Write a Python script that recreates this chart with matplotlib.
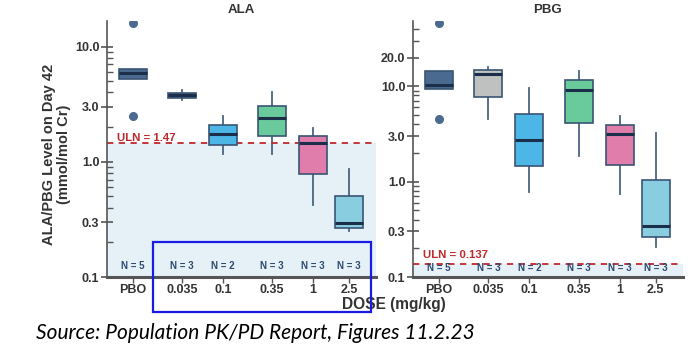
import matplotlib
matplotlib.use("Agg")
import matplotlib.pyplot as plt
import numpy as np
from matplotlib.patches import Rectangle
from matplotlib.ticker import FixedLocator, LogLocator, NullFormatter

plt.rcParams["font.family"] = ["Liberation Sans", "DejaVu Sans"]

# doses (PBO is drawn at 0.01 on the log dose axis)
dose_labels = ["PBO", "0.035", "0.1", "0.35", "1", "2.5"]
dose_pos = [0.01, 0.035, 0.1, 0.35, 1.0, 2.5]
n_labels = ["N = 5", "N = 3", "N = 2", "N = 3", "N = 3", "N = 3"]

# ALA box stats (mmol/mol Cr)
ala_med = [5.9, 3.77, 1.75, 2.39, 1.47, 0.293]
ala_q1 = [5.2, 3.57, 1.41, 1.66, 0.78, 0.269]
ala_q3 = [6.36, 3.98, 2.10, 3.08, 1.69, 0.51]
ala_lo = [5.2, 3.46, 1.18, 1.18, 0.42, 0.25]
ala_hi = [6.36, 4.17, 2.52, 4.0, 1.95, 0.86]
ala_fliers = [[2.52, 16.1], [], [], [], [], []]
ala_uln = 1.47

# PBG box stats (mmol/mol Cr)
pbg_med = [10.2, 13.4, 2.7, 9.2, 3.12, 0.339]
pbg_q1 = [9.3, 7.7, 1.45, 4.1, 1.51, 0.264]
pbg_q3 = [14.4, 14.8, 5.07, 11.5, 3.95, 1.04]
pbg_lo = [9.3, 4.5, 0.77, 1.86, 0.75, 0.207]
pbg_hi = [14.4, 16.0, 9.6, 14.3, 4.87, 3.22]
pbg_fliers = [[4.57, 46.4], [], [], [], [], []]
pbg_uln = 0.137

ala_colors = ["#4a6a8f", "#4a6a8f", "#4cb6e7", "#69cb9b", "#e07dab", "#88cee0"]
pbg_colors = ["#4a6a8f", "#bfc0c0", "#4cb6e7", "#69cb9b", "#e07dab", "#88cee0"]

TXT = "#333333"
NAVY = "#2d4a6e"
RED = "#c0282d"
SHADE = "#e5f1f7"


def draw_panel(ax, med, q1, q3, lo, hi, fliers, colors, uln, yticks, ytop, uln_text, uln_y):
    stats = []
    for i in range(len(med)):
        stats.append(dict(med=med[i], q1=q1[i], q3=q3[i], whislo=lo[i],
                          whishi=hi[i], fliers=fliers[i]))
    xs = np.log10(dose_pos)
    bp = ax.bxp(stats, positions=xs, widths=0.31, patch_artist=True, showcaps=False,
                boxprops=dict(edgecolor="#3a5474", linewidth=1.2),
                medianprops=dict(color="#1c2f4a", linewidth=2.2),
                whiskerprops=dict(color="#4a6580", linewidth=1.3),
                flierprops=dict(marker="o", markersize=5.5, markerfacecolor="#4a6a8f",
                                markeredgecolor="#4a6a8f"))
    for patch, c in zip(bp["boxes"], colors):
        patch.set_facecolor(c)
        patch.set_zorder(3)
    for m in bp["medians"]:
        m.set_zorder(4)

    ax.set_yscale("log")
    ax.set_ylim(0.1, ytop)
    ax.set_xlim(-2.29, 0.70)
    ax.axhspan(0.1, uln, color=SHADE, zorder=0, lw=0)
    ax.axhline(uln, color=RED, ls=(0, (3.5, 3)), lw=1.3, zorder=2)
    ax.text(-2.18, uln_y, uln_text, color=RED, fontsize=8.2, fontweight="bold",
            ha="left", va="center", zorder=5)
    for x, n in zip(xs, n_labels):
        ax.text(x, 0.124, n, color=NAVY, fontsize=7, fontweight="bold",
                ha="center", va="center", zorder=5)

    ax.yaxis.set_major_locator(FixedLocator(yticks))
    ax.set_yticklabels(["%.1f" % t for t in yticks])
    ax.yaxis.set_minor_locator(LogLocator(base=10, subs=np.arange(2, 10)))
    ax.yaxis.set_minor_formatter(NullFormatter())
    ax.set_xticks(xs)
    ax.set_xticklabels(dose_labels)
    for lab in ax.get_xticklabels() + ax.get_yticklabels():
        lab.set_fontweight("bold")
        lab.set_color(TXT)
    ax.tick_params(axis="y", which="major", direction="inout", length=9, width=1.2,
                   color="#555555", labelsize=9, pad=1)
    ax.tick_params(axis="y", which="minor", direction="in", length=4, width=1,
                   color="#555555")
    ax.tick_params(axis="x", direction="out", length=4, width=1, color="#555555",
                   labelsize=9, pad=1)
    for s in ["top", "right"]:
        ax.spines[s].set_visible(False)
    ax.spines["left"].set_color("#555555")
    ax.spines["left"].set_linewidth(1.2)
    ax.spines["bottom"].set_color("#555555")
    ax.spines["bottom"].set_linewidth(2.2)
    ax.set_facecolor("white")


fig = plt.figure(figsize=(6.96, 3.49), dpi=100)
ax1 = fig.add_axes([107 / 696, 1 - 277 / 349, 269 / 696, 256 / 349])
ax2 = fig.add_axes([413 / 696, 1 - 277 / 349, 270 / 696, 256 / 349])

draw_panel(ax1, ala_med, ala_q1, ala_q3, ala_lo, ala_hi, ala_fliers, ala_colors,
           ala_uln, [0.1, 0.3, 1.0, 3.0, 10.0], 16.7, "ULN = 1.47", 1.6)
draw_panel(ax2, pbg_med, pbg_q1, pbg_q3, pbg_lo, pbg_hi, pbg_fliers, pbg_colors,
           pbg_uln, [0.1, 0.3, 1.0, 3.0, 10.0, 20.0], 48.3, "ULN = 0.137", 0.17)

ax1.set_ylabel("ALA/PBG Level on Day 42\n(mmol/mol Cr)", fontsize=10.5,
               fontweight="bold", color=TXT, linespacing=1.05)
ax1.yaxis.set_label_coords(-0.135, 0.48)

fig.text(241 / 696, 1 - 10 / 349, "ALA", ha="center", va="center", fontsize=9.5,
         fontweight="bold", color=TXT)
fig.text(548 / 696, 1 - 10 / 349, "PBG", ha="center", va="center", fontsize=9.5,
         fontweight="bold", color=TXT)
fig.text(394 / 696, 1 - 304 / 349, "DOSE (mg/kg)", ha="center", va="center",
         fontsize=11.2, fontweight="bold", color=TXT)

fig.text(36 / 696, 1 - 333 / 349, "Source: Population PK/PD Report, Figures 11.2.23",
         ha="left", va="center", fontsize=15, style="italic", color="black",
         family=["Lato", "DejaVu Sans"])

fig.patches.append(Rectangle((153 / 696, 1 - 312 / 349), 218 / 696, 70 / 349,
                             transform=fig.transFigure, fill=False,
                             edgecolor="#1a1ae6", linewidth=1.6, zorder=10))

fig.savefig("out.png", dpi=100)
